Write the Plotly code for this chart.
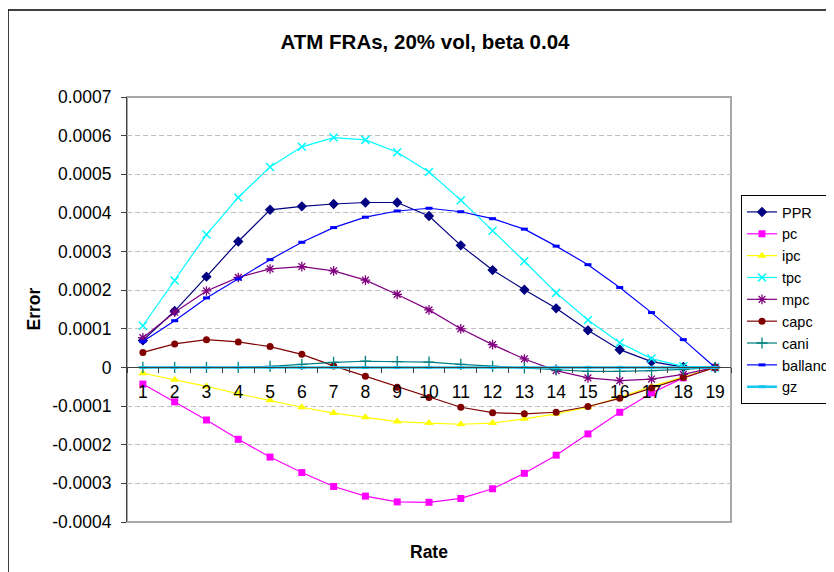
import plotly.graph_objects as go

rates = list(range(1, 20))

PPR = [0.000070, 0.000146, 0.000235, 0.000326, 0.000408, 0.000417, 0.000423, 0.000427, 0.000427, 0.000392,
       0.000316, 0.000252, 0.000201, 0.000153, 0.000096, 0.000046, 0.000015, 0.000001, 0.0]
pc = [-0.000043, -0.000089, -0.000136, -0.000186, -0.000232, -0.000272, -0.000308, -0.000333, -0.000348, -0.000349,
      -0.000339, -0.000314, -0.000274, -0.000227, -0.000172, -0.000116, -0.000066, -0.000027, 0.0]
ipc = [-0.000015, -0.000032, -0.000049, -0.000068, -0.000085, -0.000103, -0.000118, -0.000129, -0.000140, -0.000144,
       -0.000147, -0.000144, -0.000133, -0.000120, -0.000103, -0.000077, -0.000049, -0.000025, 0.0]
tpc = [0.000108, 0.000225, 0.000344, 0.000440, 0.000519, 0.000571, 0.000595, 0.000589, 0.000557, 0.000506,
       0.000433, 0.000354, 0.000275, 0.000193, 0.000123, 0.000064, 0.000023, 0.000003, 0.0]
mpc = [0.000077, 0.000143, 0.000198, 0.000233, 0.000255, 0.000261, 0.000250, 0.000226, 0.000189, 0.000149,
       0.000100, 0.000059, 0.000022, -0.000008, -0.000027, -0.000034, -0.000030, -0.000018, 0.0]
capc = [0.000039, 0.000061, 0.000072, 0.000066, 0.000054, 0.000034, 0.000004, -0.000023, -0.000051, -0.000078,
        -0.000103, -0.000117, -0.000120, -0.000116, -0.000101, -0.000080, -0.000053, -0.000026, 0.0]
cani = [0.0, 0.0, 0.0, 0.0, 0.000003, 0.000008, 0.000013, 0.000016, 0.000015, 0.000014,
        0.000008, 0.000003, -0.000001, -0.000006, -0.000010, -0.000010, -0.000008, -0.000005, 0.0]
balland = [0.000067, 0.000121, 0.000180, 0.000229, 0.000279, 0.000324, 0.000362, 0.000389, 0.000405, 0.000412,
           0.000403, 0.000385, 0.000358, 0.000314, 0.000266, 0.000207, 0.000142, 0.000072, 0.0]
gz = [0.0] * 19

ytick_vals = [0.0007, 0.0006, 0.0005, 0.0004, 0.0003, 0.0002, 0.0001, 0.0,
              -0.0001, -0.0002, -0.0003, -0.0004]
ytick_text = ["0.0007", "0.0006", "0.0005", "0.0004", "0.0003", "0.0002", "0.0001", "0",
              "-0.0001", "-0.0002", "-0.0003", "-0.0004"]
xtick_text = [str(r) for r in rates]

FONT = "Arial, Liberation Sans, sans-serif"

series = [
    ("PPR", PPR, "#000080", dict(symbol="diamond", size=8)),
    ("pc", pc, "#FF00FF", dict(symbol="square", size=7)),
    ("ipc", ipc, "#FFFF00", dict(symbol="triangle-up", size=8)),
    ("tpc", tpc, "#00FFFF", dict(symbol="x-thin-open", size=8, line=dict(width=1.5, color="#00FFFF"))),
    ("mpc", mpc, "#800080", dict(symbol="asterisk-open", size=8, line=dict(width=1.3, color="#800080"))),
    ("capc", capc, "#800000", dict(symbol="circle", size=7)),
    ("cani", cani, "#008080", dict(symbol="cross-thin-open", size=8, line=dict(width=1.3, color="#008080"))),
    ("balland", balland, "#0000FF", dict(symbol="line-ew-open", size=5, line=dict(width=3, color="#0000FF"))),
    ("gz", gz, "#18C4F0", dict(symbol="line-ew-open", size=5, line=dict(width=3, color="#18C4F0"))),
]

fig = go.Figure()
for name, vals, col, mk in series:
    m = dict(color=col)
    m.update(mk)
    lw = 2.5 if name == "gz" else 1.2
    fig.add_trace(go.Scatter(x=rates, y=vals, name=name, mode="lines+markers",
                             line=dict(color=col, width=lw), marker=m))

# page body has an 8px margin, so the figure is drawn 8px lower/right
W, H = 826, 564
fig.update_layout(
    width=W, height=H,
    margin=dict(l=119, r=103, t=89, b=50, autoexpand=False),
    paper_bgcolor="white", plot_bgcolor="white",
    font=dict(family=FONT, size=17.5, color="black"),
    title=dict(text="<b>ATM FRAs, 20% vol, beta 0.04</b>", x=0.5 + 4 / W, xref="container",
               y=1 - 34 / H, yanchor="middle", xanchor="center",
               font=dict(family=FONT, size=20.5, color="black")),
    showlegend=True,
    legend=dict(x=(741 - 127) / 604, xanchor="left", y=(522 - 195) / 425, yanchor="top",
                bordercolor="black", borderwidth=1, bgcolor="white", itemwidth=30,
                font=dict(family=FONT, size=14.5, color="black"), tracegroupgap=0),
    xaxis=dict(range=[0.5, 19.5], tickvals=rates, ticktext=xtick_text,
               anchor="free", position=4 / 11, showgrid=False, zeroline=False,
               showline=True, linecolor="#404040", linewidth=1,
               ticks="outside", ticklen=5, tickcolor="rgba(0,0,0,0)",
               ticklabelstandoff=4,
               minor=dict(tick0=0.5, dtick=1, ticks="outside", ticklen=5,
                          tickcolor="#404040", showgrid=False),
               tickfont=dict(family=FONT, size=17.5, color="black")),
    yaxis=dict(range=[-0.0004, 0.0007], tickvals=ytick_vals, ticktext=ytick_text,
               showgrid=True, gridcolor="#C0C0C0", griddash="5px,3px", gridwidth=1,
               zeroline=False, showline=True, linecolor="#404040", linewidth=1,
               ticks="outside", ticklen=5, tickcolor="#404040", ticklabelstandoff=6,
               tickfont=dict(family=FONT, size=17.5, color="black")),
    shapes=[
        dict(type="rect", xref="paper", yref="paper", x0=0, x1=1, y0=0, y1=1,
             line=dict(color="#A8A8A8", width=2), layer="below"),
        dict(type="rect", xref="paper", yref="paper", x0=(8 - 127) / 604, x1=1.4,
             y0=-0.4, y1=(522 - 10) / 425, line=dict(color="black", width=1.5), layer="below"),
    ],
    annotations=[
        dict(text="<b>Error</b>", xref="paper", yref="paper", x=(33 - 127) / 604, y=0.5,
             textangle=-90, showarrow=False, xanchor="center", yanchor="middle",
             font=dict(family=FONT, size=17.5, color="black")),
        dict(text="<b>Rate</b>", xref="paper", yref="paper", x=0.5, y=(522 - 552) / 425,
             showarrow=False, xanchor="center", yanchor="middle",
             font=dict(family=FONT, size=17.5, color="black")),
    ],
)

fig.write_html("out.html")
